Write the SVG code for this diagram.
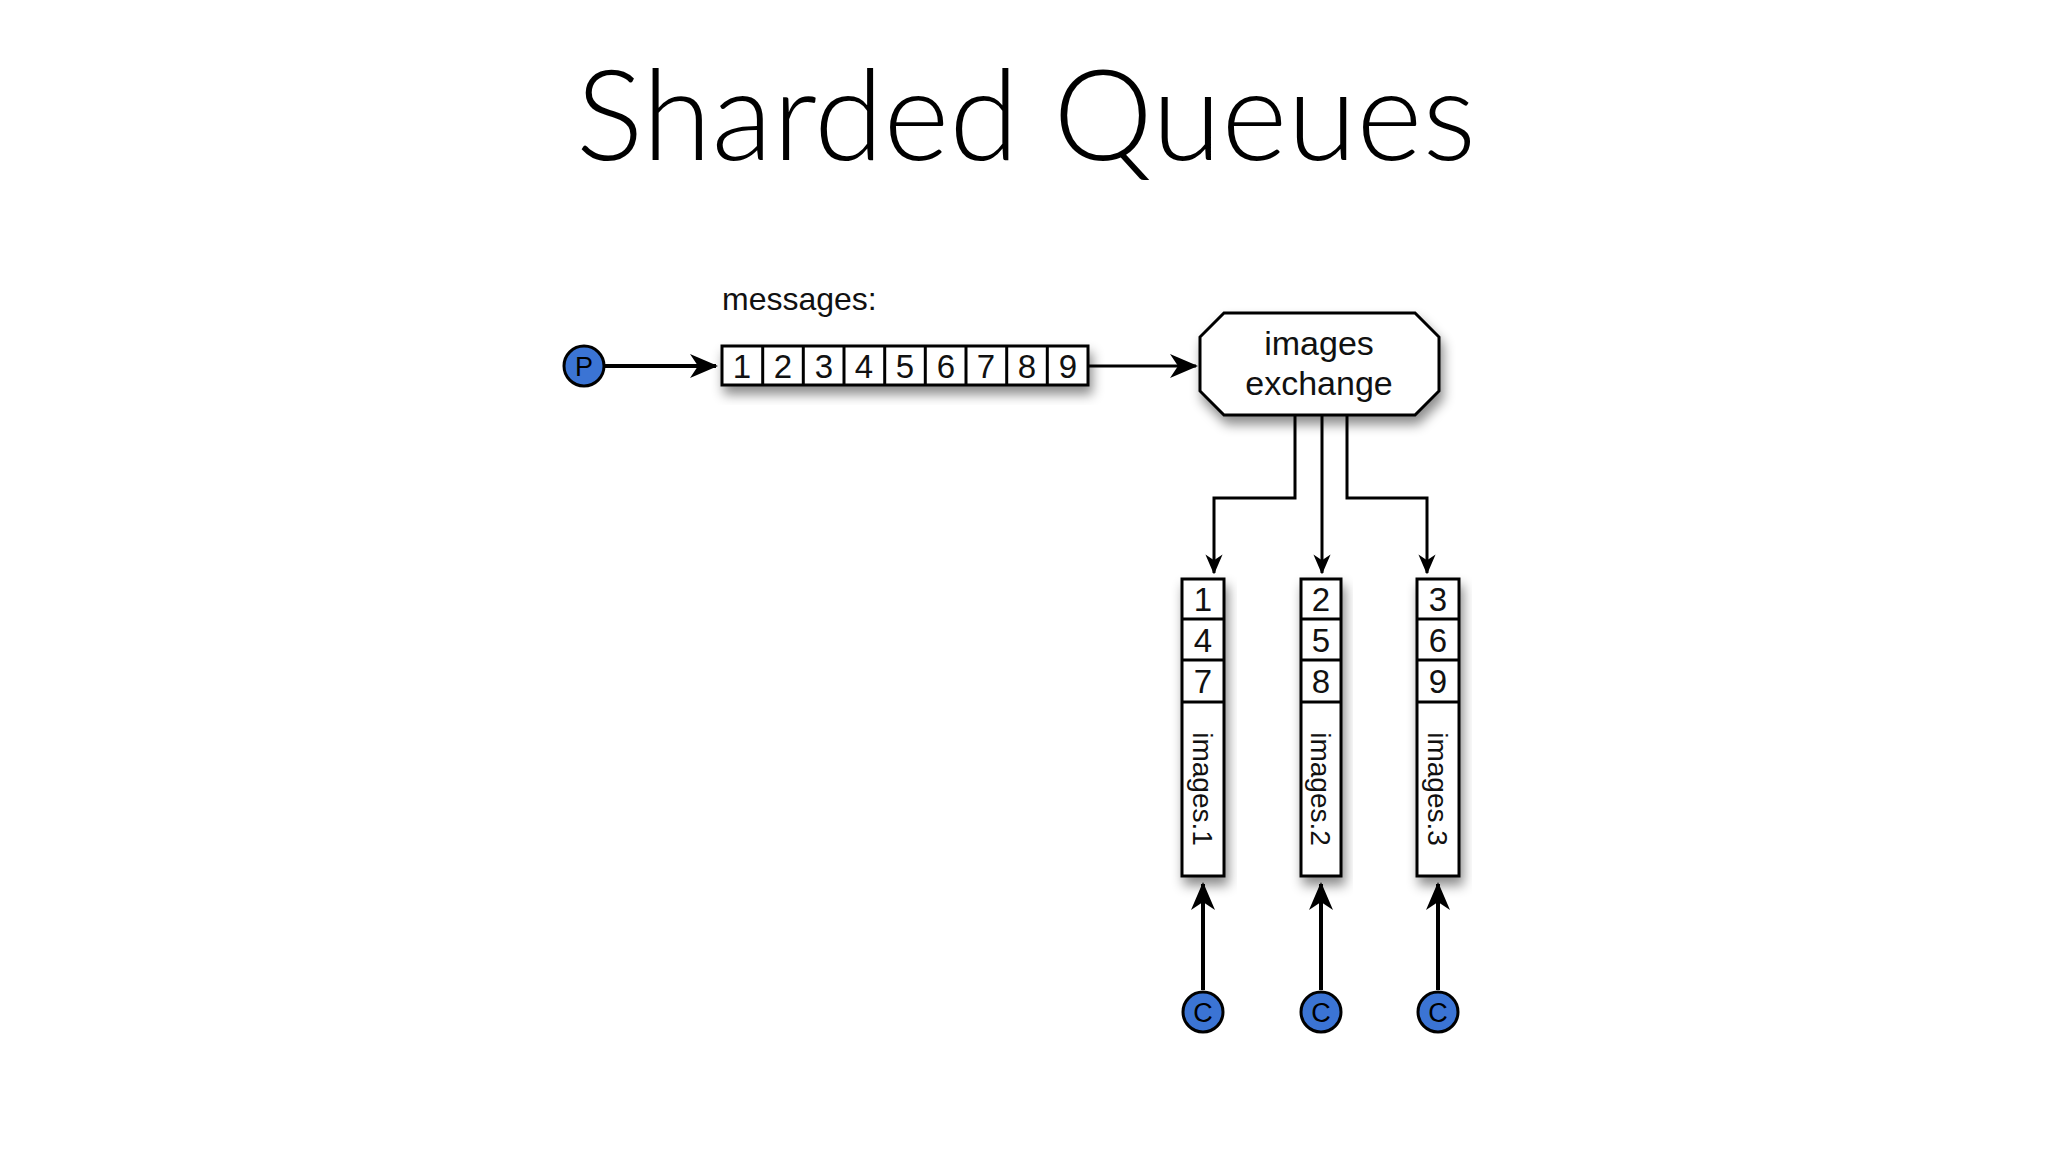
<svg xmlns="http://www.w3.org/2000/svg" width="2048" height="1152" viewBox="0 0 2048 1152">
<defs>
<filter id="sh" x="-30%" y="-30%" width="160%" height="180%"><feDropShadow dx="3" dy="8" stdDeviation="6" flood-color="#000" flood-opacity="0.45"/></filter>
<marker id="ar" viewBox="0 0 14 12" refX="13" refY="6" markerWidth="20" markerHeight="18" markerUnits="userSpaceOnUse" orient="auto"><path d="M0,0 L14,6 L0,12 L4,6 z" fill="#000"/></marker>
<marker id="arb" viewBox="0 0 14 12" refX="13" refY="6" markerWidth="28" markerHeight="26" markerUnits="userSpaceOnUse" orient="auto"><path d="M0,0 L14,6 L0,12 L4,6 z" fill="#000"/></marker>
</defs>
<style>
.box{fill:#fff;stroke:#000;stroke-width:3}
.t{font-family:"Liberation Sans",Arial,sans-serif;fill:#111}
.num{font-size:33px;text-anchor:middle}
.ln{fill:none;stroke:#000;stroke-width:3}
.lb{fill:none;stroke:#000;stroke-width:4}
.node{fill:#3b74d4;stroke:#000;stroke-width:3}
.nl{font-family:"Liberation Sans",Arial,sans-serif;font-size:27px;text-anchor:middle;fill:#000}
</style>
<rect width="2048" height="1152" fill="#fff"/>
<text x="1026" y="160" text-anchor="middle" font-family="Lato,'Liberation Sans',sans-serif" font-weight="300" font-size="126" textLength="900" fill="#000">Sharded Queues</text>

<g id="connectors">
<line class="lb" x1="605" y1="366" x2="716" y2="366" marker-end="url(#arb)"/>
<line class="ln" x1="1088" y1="366" x2="1196" y2="366" marker-end="url(#arb)"/>
<polyline class="ln" points="1295,415 1295,498 1214,498 1214,573" marker-end="url(#ar)"/>
<polyline class="ln" points="1322,415 1322,573" marker-end="url(#ar)"/>
<polyline class="ln" points="1347,415 1347,498 1427,498 1427,573" marker-end="url(#ar)"/>
<line class="lb" x1="1203" y1="990" x2="1203" y2="884" marker-end="url(#arb)"/>
<line class="lb" x1="1321" y1="990" x2="1321" y2="884" marker-end="url(#arb)"/>
<line class="lb" x1="1438" y1="990" x2="1438" y2="884" marker-end="url(#arb)"/>
</g>

<g id="producer"><circle class="node" cx="584" cy="366" r="20"/><text class="nl" x="584" y="376">P</text></g>

<g id="messages">
<text class="t" x="722" y="310" font-size="32">messages:</text>
<rect class="box" x="722" y="346" width="366" height="39" filter="url(#sh)"/>
<g class="ln"><line x1="762.7" y1="346" x2="762.7" y2="385"/><line x1="803.3" y1="346" x2="803.3" y2="385"/><line x1="844" y1="346" x2="844" y2="385"/><line x1="884.7" y1="346" x2="884.7" y2="385"/><line x1="925.3" y1="346" x2="925.3" y2="385"/><line x1="966" y1="346" x2="966" y2="385"/><line x1="1006.7" y1="346" x2="1006.7" y2="385"/><line x1="1047.3" y1="346" x2="1047.3" y2="385"/></g>
<g class="t num"><text x="742" y="378">1</text><text x="783" y="378">2</text><text x="824" y="378">3</text><text x="864" y="378">4</text><text x="905" y="378">5</text><text x="946" y="378">6</text><text x="986" y="378">7</text><text x="1027" y="378">8</text><text x="1068" y="378">9</text></g>
</g>

<g id="exchange">
<path class="box" d="M1224,313 L1415,313 L1439,337 L1439,391 L1415,415 L1224,415 L1200,391 L1200,337 Z" filter="url(#sh)"/>
<text class="t" x="1319" y="355" font-size="34" text-anchor="middle">images</text>
<text class="t" x="1319" y="395" font-size="34" text-anchor="middle">exchange</text>
</g>

<g id="images1">
<rect class="box" x="1182" y="579" width="42" height="297" filter="url(#sh)"/>
<line class="ln" x1="1182" y1="619" x2="1224" y2="619"/><line class="ln" x1="1182" y1="660" x2="1224" y2="660"/><line class="ln" x1="1182" y1="702" x2="1224" y2="702"/>
<g class="t num"><text x="1203" y="611">1</text><text x="1203" y="652">4</text><text x="1203" y="693">7</text></g>
<text class="t" font-size="28" text-anchor="middle" transform="translate(1193,789) rotate(90)">images.1</text>
</g>
<g id="images2">
<rect class="box" x="1301" y="579" width="40" height="297" filter="url(#sh)"/>
<line class="ln" x1="1301" y1="619" x2="1341" y2="619"/><line class="ln" x1="1301" y1="660" x2="1341" y2="660"/><line class="ln" x1="1301" y1="702" x2="1341" y2="702"/>
<g class="t num"><text x="1321" y="611">2</text><text x="1321" y="652">5</text><text x="1321" y="693">8</text></g>
<text class="t" font-size="28" text-anchor="middle" transform="translate(1311,789) rotate(90)">images.2</text>
</g>
<g id="images3">
<rect class="box" x="1417" y="579" width="42" height="297" filter="url(#sh)"/>
<line class="ln" x1="1417" y1="619" x2="1459" y2="619"/><line class="ln" x1="1417" y1="660" x2="1459" y2="660"/><line class="ln" x1="1417" y1="702" x2="1459" y2="702"/>
<g class="t num"><text x="1438" y="611">3</text><text x="1438" y="652">6</text><text x="1438" y="693">9</text></g>
<text class="t" font-size="28" text-anchor="middle" transform="translate(1428,789) rotate(90)">images.3</text>
</g>

<g id="consumer1"><circle class="node" cx="1203" cy="1012" r="20"/><text class="nl" x="1203" y="1022">C</text></g>
<g id="consumer2"><circle class="node" cx="1321" cy="1012" r="20"/><text class="nl" x="1321" y="1022">C</text></g>
<g id="consumer3"><circle class="node" cx="1438" cy="1012" r="20"/><text class="nl" x="1438" y="1022">C</text></g>
</svg>
